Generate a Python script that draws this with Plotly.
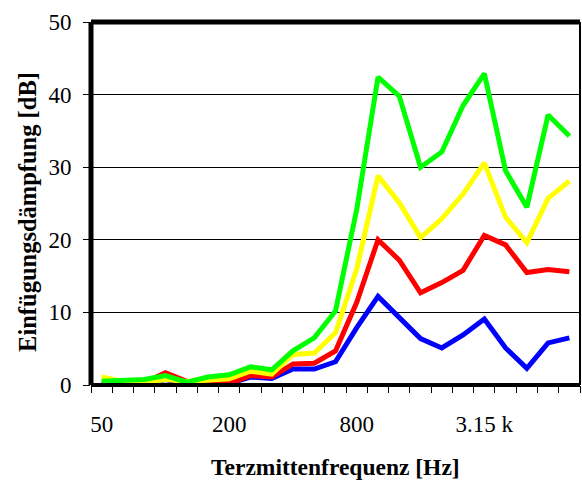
import plotly.graph_objects as go

# Third-octave centre frequencies (Hz)
freqs = ["50", "63", "80", "100", "125", "160", "200", "250", "315", "400", "500",
         "630", "800", "1000", "1250", "1600", "2000", "2500", "3150", "4000",
         "5000", "6300", "8000"]
tick_freqs = ["50", "200", "800", "3150"]
tick_labels = ["50", "200", "800", "3.15 k"]

blue = [0.1, 0.1, 0.1, 0.75, 0.1, 0.3, 0.2, 1.1, 0.9, 2.2, 2.2, 3.2, 7.9, 12.2,
        9.3, 6.4, 5.1, 6.9, 9.1, 5.1, 2.3, 5.8, 6.5]
red = [0.2, 0.3, 0.3, 1.7, 0.5, 0.4, 0.2, 1.3, 1.1, 2.9, 3.0, 4.7, 11.4, 20.0,
       17.2, 12.7, 14.1, 15.8, 20.6, 19.3, 15.5, 15.9, 15.6]
yellow = [1.1, 0.5, 0.3, 0.75, 0.5, 0.75, 0.85, 1.9, 1.5, 4.2, 4.4, 7.2, 16.0,
          28.8, 25.1, 20.3, 22.9, 26.3, 30.6, 23.1, 19.6, 25.7, 28.1]
green = [0.5, 0.7, 0.75, 1.3, 0.4, 1.1, 1.4, 2.5, 2.1, 4.7, 6.5, 10.2, 24.2,
         42.4, 39.8, 30.0, 32.1, 38.5, 42.9, 29.5, 24.5, 37.2, 34.3]

x = list(range(len(freqs)))
tickpos = [freqs.index(f) for f in tick_freqs]

fig = go.Figure()
for vals, col in [(blue, "#0000FF"), (red, "#FF0000"), (yellow, "#FFFF00"), (green, "#00FF00")]:
    fig.add_trace(go.Scatter(x=x, y=vals, mode="lines",
                             line=dict(color=col, width=5), showlegend=False))

font = "Liberation Serif, Times New Roman, serif"
fig.update_layout(
    width=582, height=482,
    margin=dict(l=91, r=2, t=22, b=97),
    paper_bgcolor="white", plot_bgcolor="white",
    font=dict(family=font, color="black", size=23),
    xaxis=dict(range=[-0.5, len(freqs) - 0.5], tickmode="array",
               tickvals=tickpos, ticktext=tick_labels, ticks="",
               showgrid=False, zeroline=False, showline=False,
               ticklabelstandoff=23,
               minor=dict(tickmode="linear", tick0=-0.5, dtick=1,
                          ticks="outside", ticklen=7, tickwidth=1,
                          tickcolor="black", showgrid=False)),
    yaxis=dict(range=[0, 50], tickmode="linear", tick0=0, dtick=10,
               ticks="outside", ticklen=7, tickwidth=1, tickcolor="black",
               showgrid=True, gridcolor="black", gridwidth=1,
               zeroline=False, showline=False, ticklabelstandoff=7),
    shapes=[
        dict(type="line", xref="paper", yref="paper", x0=0, x1=1, y0=1, y1=1,
             line=dict(color="black", width=5), layer="above"),
        dict(type="line", xref="paper", yref="paper", x0=0, x1=0, y0=0, y1=1,
             line=dict(color="black", width=5), layer="above"),
        dict(type="line", xref="paper", yref="paper", x0=0, x1=1, y0=0, y1=0,
             line=dict(color="black", width=4), layer="above"),
        dict(type="line", xref="paper", yref="paper", x0=1, x1=1, y0=0, y1=1,
             line=dict(color="black", width=2), layer="above"),
    ],
    annotations=[
        dict(text="<b>Terzmittenfrequenz [Hz]</b>", xref="paper", yref="paper",
             x=0.501, y=-0.226, xanchor="center", yanchor="middle",
             showarrow=False, font=dict(size=23.5)),
        dict(text="<b>Einfügungsdämpfung [dB]</b>", xref="paper", yref="paper",
             x=-0.13, y=0.478, xanchor="center", yanchor="middle", textangle=-90,
             showarrow=False, font=dict(size=24.5)),
    ],
)

fig.write_html("out.html", config={"displayModeBar": False},
               post_script="document.body.style.margin='0';")
